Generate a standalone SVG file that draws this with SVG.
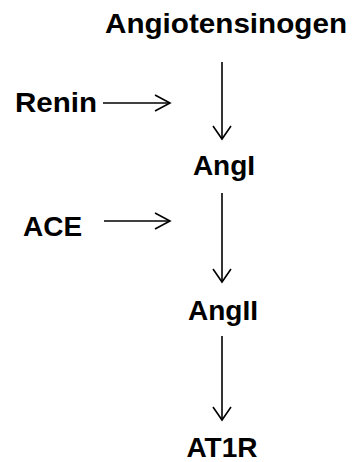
<svg xmlns="http://www.w3.org/2000/svg" width="354" height="462" viewBox="0 0 354 462">
<style>
.lbl{font-family:"Liberation Sans",Arial,sans-serif;font-weight:bold;font-size:28px;fill:#000}
.ln{stroke:#000;stroke-width:1.6;fill:none}
.hd{stroke:#000;stroke-width:1.6;fill:none;stroke-linejoin:miter}
</style>
<rect width="354" height="462" fill="#fff"/>
<g id="angiotensinogen"><text class="lbl" x="105" y="33" textLength="242" lengthAdjust="spacingAndGlyphs">Angiotensinogen</text></g>
<g id="renin"><text class="lbl" x="15" y="112" textLength="82" lengthAdjust="spacingAndGlyphs">Renin</text></g>
<g id="angI"><text class="lbl" x="224" y="175" text-anchor="middle">AngI</text></g>
<g id="ace"><text class="lbl" x="23" y="236">ACE</text></g>
<g id="angII"><text class="lbl" x="223" y="320" text-anchor="middle">AngII</text></g>
<g id="at1r"><text class="lbl" x="222" y="457" text-anchor="middle">AT1R</text></g>
<g id="connectors">
<path class="ln" d="M222 62V139"/>
<path class="hd" d="M213 126L222 139L231 126"/>
<path class="ln" d="M103 103H170"/>
<path class="hd" d="M155 95L170 103L155 111"/>
<path class="ln" d="M222 193V282"/>
<path class="hd" d="M213 269L222 282L231 269"/>
<path class="ln" d="M104 221H170"/>
<path class="hd" d="M155 213L170 221L155 229"/>
<path class="ln" d="M222 336V420"/>
<path class="hd" d="M213 407L222 420L231 407"/>
</g>
</svg>
